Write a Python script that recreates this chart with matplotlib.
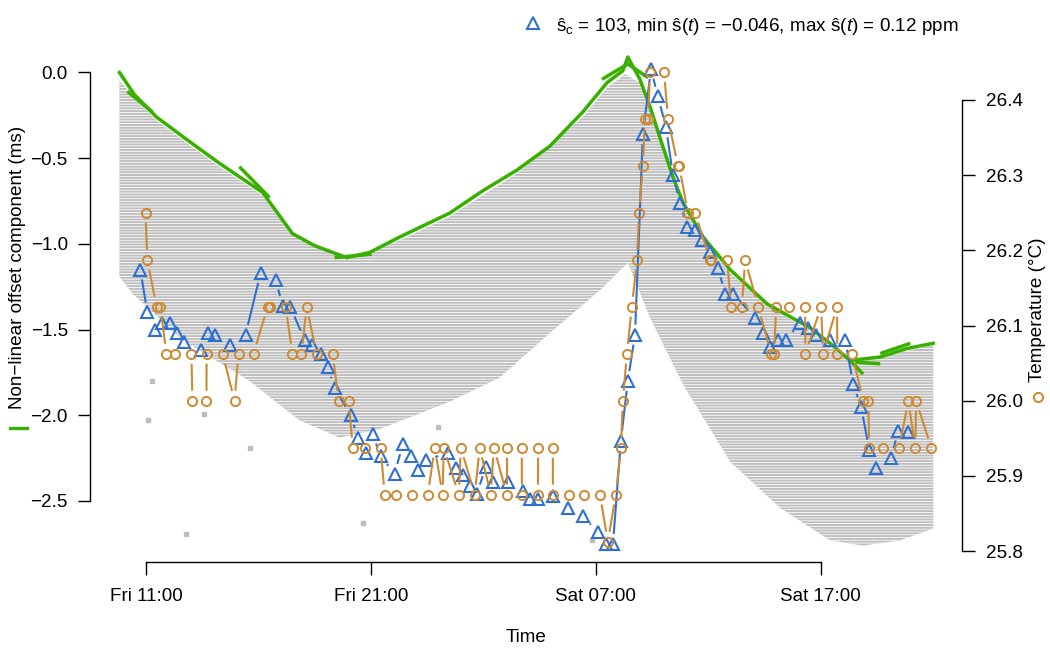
import numpy as np
import matplotlib
matplotlib.use('Agg')
import matplotlib.pyplot as plt
from matplotlib.collections import LineCollection
from matplotlib.lines import Line2D

plt.rcParams['font.family'] = ['Liberation Sans', 'DejaVu Sans']
plt.rcParams['mathtext.fontset'] = 'custom'
plt.rcParams['mathtext.rm'] = 'Liberation Sans'
plt.rcParams['mathtext.it'] = 'Liberation Sans:italic'
plt.rcParams['hatch.linewidth'] = 0.6

# time axis: hours since Fri 00:00
tick_hours = [11, 21, 31, 41]
tick_labels = ['Fri 11:00', 'Fri 21:00', 'Sat 07:00', 'Sat 17:00']

# raw offset cloud (outline of the dense gray point cloud)
cloud_top_h = [9.80, 11.45, 12.78, 14.25, 16.17, 17.50, 19.91, 22.27, 24.50, 27.48, 30.42, 31.49,
               32.29, 32.96, 33.85, 34.88, 35.77, 36.97, 38.62, 40.53, 42.31, 43.65, 46.01]
cloud_top_s = [-0.05, -0.28, -0.41, -0.55, -0.72, -0.95, -1.09, -0.98, -0.84, -0.59, -0.26, -0.09,
               -0.01, -0.06, -0.39, -0.78, -0.98, -1.17, -1.36, -1.51, -1.69, -1.66, -1.59]
cloud_bot_h = [9.80, 10.38, 12.60, 15.59, 17.82, 19.60, 21.38, 24.50, 26.72, 28.95, 31.18, 32.42,
               33.41, 34.88, 36.97, 39.20, 41.42, 42.89, 44.54, 46.01]
cloud_bot_s = [-1.19, -1.29, -1.56, -1.80, -2.03, -2.13, -2.08, -1.92, -1.78, -1.52, -1.27, -1.11,
               -1.43, -1.82, -2.27, -2.54, -2.73, -2.76, -2.73, -2.66]
stray_h = [11.27, 11.09, 13.58, 15.59, 12.74, 20.62, 23.96, 30.82]
stray_s = [-1.80, -2.03, -1.99, -2.19, -2.69, -2.63, -2.07, -2.73]

# non-linear offset component (green)
green_h = [9.80, 10.47, 11.45, 12.78, 14.25, 16.17, 17.50, 18.48, 19.29, 19.91, 20.93, 22.27,
           24.50, 25.97, 27.48, 28.95, 30.42, 31.49, 32.20, 32.42, 32.96, 33.41, 33.85, 34.43,
           34.88, 35.77, 36.97, 38.62, 40.53, 41.42, 42.31, 43.65, 44.85, 46.01]
green_s = [0.00, -0.13, -0.26, -0.39, -0.53, -0.70, -0.94, -1.01, -1.05, -1.08, -1.05, -0.96,
           -0.82, -0.69, -0.57, -0.43, -0.23, -0.06, 0.01, 0.09, -0.04, -0.20, -0.38, -0.61,
           -0.76, -0.96, -1.15, -1.35, -1.49, -1.58, -1.68, -1.66, -1.61, -1.58]
spur_h = [[10.15, 11.27], [15.14, 16.48], [19.37, 21.02], [31.27, 32.42, 33.32],
          [42.31, 42.89], [42.54, 43.65], [43.65, 44.99]]
spur_s = [[-0.11, -0.23], [-0.55, -0.73], [-1.08, -1.06], [-0.04, 0.05, -0.03],
          [-1.68, -1.76], [-1.69, -1.70], [-1.64, -1.58]]

# s-hat estimate (blue triangles)
tri_h = [10.73, 11.04, 11.40, 11.71, 12.07, 12.38, 12.69, 13.41, 13.72, 14.07,
         14.70, 15.41, 16.08, 16.75, 17.06, 17.41, 18.04, 18.39, 18.75, 19.06,
         19.37, 20.09, 20.40, 20.75, 21.07, 21.42, 22.05, 22.40, 22.76, 23.07,
         23.43, 24.41, 24.76, 25.08, 25.39, 25.70, 26.10, 26.41, 27.08, 27.75,
         28.06, 28.42, 29.08, 29.75, 30.42, 31.09, 31.45, 31.76, 32.11, 32.42,
         32.74, 33.09, 33.45, 33.76, 34.12, 34.43, 34.74, 35.05, 35.41, 35.72,
         36.08, 36.43, 36.75, 37.10, 38.08, 38.44, 38.75, 39.11, 39.46, 40.09,
         40.44, 40.80, 41.42, 42.09, 42.45, 42.80, 43.16, 43.47, 44.14, 44.45, 44.90]
tri_s = [-1.15, -1.40, -1.50, -1.46, -1.46, -1.52, -1.57, -1.62, -1.52, -1.53,
         -1.59, -1.53, -1.17, -1.21, -1.36, -1.37, -1.56, -1.59, -1.64, -1.72,
         -1.84, -2.00, -2.13, -2.22, -2.11, -2.24, -2.34, -2.17, -2.24, -2.32,
         -2.26, -2.22, -2.31, -2.35, -2.41, -2.46, -2.30, -2.39, -2.39, -2.44,
         -2.49, -2.49, -2.47, -2.54, -2.59, -2.68, -2.75, -2.75, -2.15, -1.80,
         -1.53, -0.36, 0.02, -0.14, -0.32, -0.60, -0.76, -0.90, -0.92, -0.98,
         -1.05, -1.14, -1.29, -1.29, -1.43, -1.52, -1.60, -1.56, -1.56, -1.46,
         -1.49, -1.53, -1.56, -1.56, -1.82, -1.95, -2.20, -2.31, -2.25, -2.09, -2.10]

# temperature (orange circles)
temp_h = [10.96, 11.04, 11.45, 11.62, 11.89, 12.29, 13.00, 13.05, 13.67, 13.68,
          14.39, 14.92, 15.10, 15.77, 16.39, 16.52, 17.19, 17.50, 17.90, 18.13,
          18.57, 19.29, 19.55, 20.00, 20.18, 20.71, 21.42, 21.60, 22.09, 22.80,
          23.52, 23.83, 24.18, 24.23, 24.90, 24.99, 25.61, 25.83, 26.32, 26.46,
          27.04, 27.05, 27.70, 27.71, 28.42, 28.43, 29.08, 29.09, 29.80, 30.47,
          31.18, 31.53, 31.89, 32.11, 32.20, 32.38, 32.60, 32.83, 32.92, 33.09,
          33.18, 33.32, 33.41, 34.03, 34.21, 34.65, 34.70, 35.10, 35.41, 36.08,
          36.12, 36.84, 37.01, 37.50, 37.64, 38.22, 38.80, 38.93, 39.02, 39.60,
          40.31, 40.32, 41.02, 41.11, 41.73, 41.74, 42.40, 42.89, 43.12, 43.16,
          43.78, 44.50, 44.90, 45.21, 45.25, 45.92]
temp_c = [26.25, 26.1875, 26.125, 26.125, 26.0625, 26.0625, 26.0625, 26.0, 26.0, 26.0625,
          26.0625, 26.0, 26.0625, 26.0625, 26.125, 26.125, 26.125, 26.0625, 26.0625, 26.125,
          26.0625, 26.0625, 26.0, 26.0, 25.9375, 25.9375, 25.9375, 25.875, 25.875, 25.875,
          25.875, 25.9375, 25.875, 25.9375, 25.875, 25.9375, 25.875, 25.9375, 25.875, 25.9375,
          25.875, 25.9375, 25.9375, 25.875, 25.875, 25.9375, 25.9375, 25.875, 25.875, 25.875,
          25.875, 25.8125, 25.875, 25.9375, 26.0, 26.0625, 26.125, 26.1875, 26.25, 26.3125,
          26.375, 26.375, 26.4375, 26.4375, 26.375, 26.3125, 26.3125, 26.25, 26.25, 26.1875,
          26.1875, 26.1875, 26.125, 26.125, 26.1875, 26.125, 26.0625, 26.0625, 26.125, 26.125,
          26.125, 26.0625, 26.125, 26.0625, 26.125, 26.0625, 26.0625, 26.0, 26.0, 25.9375,
          25.9375, 25.9375, 26.0, 25.9375, 26.0, 25.9375]

FS = 13.6
GRAY = '#bebebe'
GREEN = '#38b000'
BLUE = '#2e6fd2'
ORANGE = '#cd8a32'


def gapped(axis, x, y, gap=10):
    # R type="b": line segments that stop short of each point
    tr = axis.transData
    pts = tr.transform(np.column_stack([x, y]))
    segs = []
    for p, q in zip(pts[:-1], pts[1:]):
        d = q - p
        L = np.hypot(*d)
        if L <= 2 * gap:
            continue
        u = d / L
        segs.append(tr.inverted().transform(np.array([p + u * gap, q - u * gap])))
    return segs


fig = plt.figure(figsize=(10.5, 6.53), dpi=100)
ax = fig.add_axes([90 / 1050, 91 / 653, 872 / 1050, 525 / 653])
ax.set_xlim(8.49, 47.29)
ax.set_ylim(-2.856, 0.207)
ax2 = ax.twinx()
ax2.set_ylim(25.7854, 26.4838)

# ── gray cloud ──
xs = cloud_top_h + cloud_bot_h[::-1]
ys = cloud_top_s + cloud_bot_s[::-1]
ax.fill(xs, ys, facecolor=GRAY, edgecolor='white', hatch='------', linewidth=0, zorder=1)
ax.plot(stray_h, stray_s, 's', color=GRAY, markersize=2.2, zorder=1)

# ── green curve ──
ax.plot(green_h, green_s, color=GREEN, linewidth=2.5, solid_joinstyle='round', zorder=2)
for sh, ss in zip(spur_h, spur_s):
    ax.plot(sh, ss, color=GREEN, linewidth=2.5, solid_capstyle='butt', zorder=2)

# ── blue triangles ──
ax.add_collection(LineCollection(gapped(ax, tri_h, tri_s), colors=BLUE, linewidths=1.5, zorder=3))
ax.plot(tri_h, tri_s, '^', markersize=8.5, markerfacecolor='none', markeredgecolor=BLUE,
        markeredgewidth=1.5, zorder=3)

# ── orange temperature ──
ax2.add_collection(LineCollection(gapped(ax2, temp_h, temp_c), colors=ORANGE, linewidths=1.5, zorder=3))
ax2.plot(temp_h, temp_c, 'o', markersize=6.6, markerfacecolor='none', markeredgecolor=ORANGE,
         markeredgewidth=1.4, zorder=3)

# ── axes ──
for s in ['top', 'right']:
    ax.spines[s].set_visible(False)
for s in ['top', 'left', 'bottom']:
    ax2.spines[s].set_visible(False)
ax.spines['left'].set_bounds(-2.5, 0.0)
ax.spines['bottom'].set_bounds(11, 41)
ax2.spines['right'].set_bounds(25.8, 26.4)
for sp in [ax.spines['left'], ax.spines['bottom'], ax2.spines['right']]:
    sp.set_linewidth(1.0)

yt = [-2.5, -2.0, -1.5, -1.0, -0.5, 0.0]
ax.set_yticks(yt)
ax.set_yticklabels([('%.1f' % v).replace('-', '\u2212') for v in yt])
ax.set_xticks(tick_hours)
ax.set_xticklabels(tick_labels)
rt = [25.8, 25.9, 26.0, 26.1, 26.2, 26.3, 26.4]
ax2.set_yticks(rt)
ax2.set_yticklabels(['%.1f' % v for v in rt])

ax.tick_params(axis='y', direction='out', length=9, width=1.0, labelsize=FS, pad=7)
ax.tick_params(axis='x', direction='out', length=9, width=1.0, labelsize=FS, pad=10)
ax2.tick_params(axis='y', direction='out', length=9, width=1.0, labelsize=FS, pad=8)

# ── labels ──
fig.text(526 / 1050, 1 - 637 / 653, 'Time', ha='center', va='center', fontsize=FS)
fig.text(18 / 1050, 1 - 267 / 653, 'Non\u2212linear offset component (ms)', rotation=90,
         ha='center', va='center', fontsize=FS)
fig.add_artist(Line2D([10 / 1050, 27 / 1050], [1 - 428 / 653] * 2, color=GREEN, linewidth=2.4,
                      transform=fig.transFigure))
fig.text(1038 / 1050, 1 - 310 / 653, 'Temperature (\u00b0C)', rotation=90,
         ha='center', va='center', fontsize=FS)
fig.add_artist(Line2D([1038 / 1050], [1 - 397 / 653], marker='o', markersize=6.6,
                      markerfacecolor='none', markeredgecolor=ORANGE, markeredgewidth=1.4,
                      transform=fig.transFigure))

# ── legend on top ──
fig.add_artist(Line2D([533 / 1050], [1 - 23 / 653], marker='^', markersize=8.5,
                      markerfacecolor='none', markeredgecolor=BLUE, markeredgewidth=1.5,
                      transform=fig.transFigure))
fig.text(556 / 1050, 1 - 31 / 653,
         '\u015d$_\\mathrm{c}$ = 103, min \u015d($t$) = \u22120.046, max \u015d($t$) = 0.12 ppm',
         ha='left', va='baseline', fontsize=FS)

plt.savefig('out.png', dpi=100)
plt.close()
